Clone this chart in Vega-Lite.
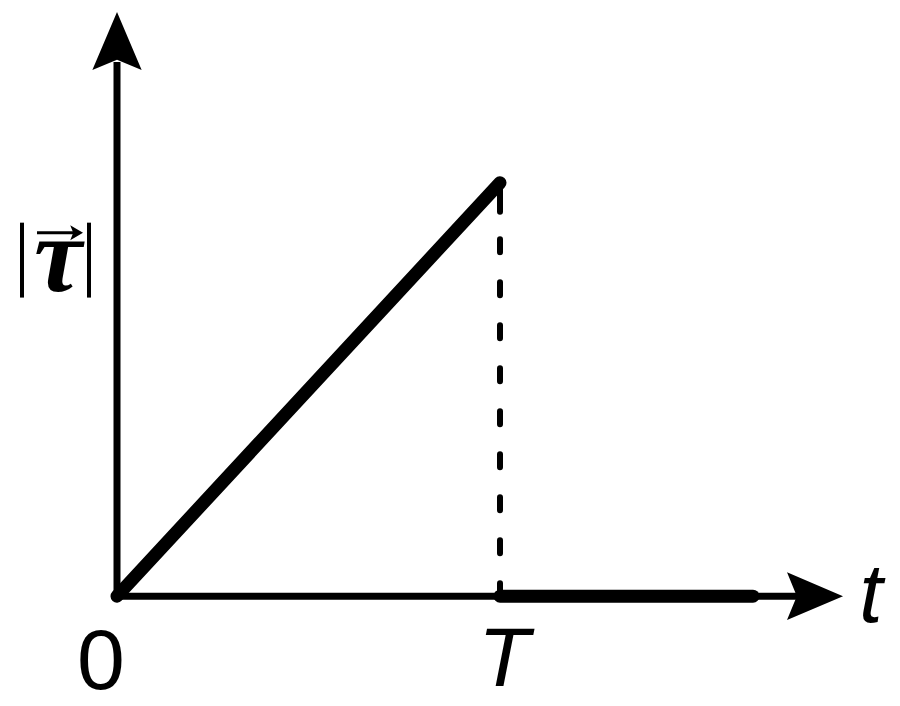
{
  "$schema": "https://vega.github.io/schema/vega-lite/v6.json",
  "description": "Magnitude of torque against time: linear rise to T, then zero.",
  "width": 900,
  "height": 706,
  "autosize": {"type": "fit", "contains": "padding"},
  "padding": 0,
  "background": "white",
  "config": {"view": {"stroke": null}},
  "datasets": {
    "axes": [
      {"t": 0, "tau": -0.007, "t2": 0, "tau2": 1.292},
      {"t": -0.005, "tau": 0, "t2": 1.783, "tau2": 0}
    ],
    "yArrow": [{"t": 0, "tau": 1.343}],
    "xArrow": [{"t": 1.8225, "tau": 0}],
    "torque": [
      {"t": 0, "tau": 0, "t2": 1, "tau2": 1},
      {"t": 1, "tau": 0, "t2": 1.6606, "tau2": 0}
    ],
    "drop": [{"t": 1, "tau": 0, "tau2": 1}],
    "dropTop": [{"t": 1, "tau": 0.93, "tau2": 1}],
    "upright": [{"t": -0.0418, "tau": -0.2246, "label": "0"}],
    "italic": [
      {"t": 1.01, "tau": -0.2174, "label": "T"},
      {"t": 1.9687, "tau": -0.0628, "label": "t"}
    ],
    "bars": [
      {"t": -0.248, "tau": 0.7222, "tau2": 0.9034},
      {"t": -0.0731, "tau": 0.7222, "tau2": 0.9034}
    ],
    "vecShaft": [{"t": -0.2089, "tau": 0.8792, "t2": -0.112, "tau2": 0.8792}],
    "vecHead": [{"t": -0.1084, "tau": 0.8792}],
    "tauSymbol": [{"t": -0.154, "tau": 0.739, "label": "τ"}]
  },
  "encoding": {
    "x": {"field": "t", "type": "quantitative", "axis": null, "scale": {"domain": [-0.3055, 2.0444], "nice": false, "zero": false}},
    "y": {"field": "tau", "type": "quantitative", "axis": null, "scale": {"domain": [-0.2633, 1.442], "nice": false, "zero": false}}
  },
  "layer": [
    {
      "data": {"name": "axes"},
      "mark": {"type": "rule", "color": "black", "strokeWidth": 7},
      "encoding": {"x2": {"field": "t2"}, "y2": {"field": "tau2"}}
    },
    {
      "data": {"name": "yArrow"},
      "mark": {"type": "point", "filled": true, "color": "black", "opacity": 1, "size": 3364, "shape": "M0,-1L0.85,1L0,0.65L-0.85,1Z"}
    },
    {
      "data": {"name": "xArrow"},
      "mark": {"type": "point", "filled": true, "color": "black", "opacity": 1, "size": 3136, "angle": 90, "shape": "M0,-1L0.85,1L0,0.65L-0.85,1Z"}
    },
    {
      "data": {"name": "torque"},
      "mark": {"type": "rule", "color": "black", "strokeWidth": 13, "strokeCap": "round"},
      "encoding": {"x2": {"field": "t2"}, "y2": {"field": "tau2"}}
    },
    {
      "data": {"name": "drop"},
      "mark": {"type": "rule", "color": "black", "strokeWidth": 6, "strokeCap": "round", "strokeDash": [13, 30]},
      "encoding": {"y2": {"field": "tau2"}}
    },
    {
      "data": {"name": "dropTop"},
      "mark": {"type": "rule", "color": "black", "strokeWidth": 6, "strokeCap": "round"},
      "encoding": {"y2": {"field": "tau2"}}
    },
    {
      "data": {"name": "upright"},
      "mark": {"type": "text", "font": "Liberation Sans", "fontSize": 86, "color": "black", "align": "center", "baseline": "alphabetic"},
      "encoding": {"text": {"field": "label"}}
    },
    {
      "data": {"name": "italic"},
      "mark": {"type": "text", "font": "Liberation Sans", "fontStyle": "italic", "fontSize": 84, "color": "black", "align": "center", "baseline": "alphabetic"},
      "encoding": {"text": {"field": "label"}}
    },
    {
      "data": {"name": "bars"},
      "mark": {"type": "rule", "color": "black", "strokeWidth": 4},
      "encoding": {"y2": {"field": "tau2"}}
    },
    {
      "data": {"name": "vecShaft"},
      "mark": {"type": "rule", "color": "black", "strokeWidth": 3},
      "encoding": {"x2": {"field": "t2"}, "y2": {"field": "tau2"}}
    },
    {
      "data": {"name": "vecHead"},
      "mark": {"type": "point", "filled": true, "color": "black", "opacity": 1, "size": 225, "shape": "M1,0L-0.7,-1L-0.3,0L-0.7,1Z"}
    },
    {
      "data": {"name": "tauSymbol"},
      "mark": {"type": "text", "font": "Liberation Serif", "fontStyle": "italic", "fontWeight": "bold", "fontSize": 108, "color": "black", "align": "center", "baseline": "alphabetic"},
      "encoding": {"text": {"field": "label"}}
    }
  ]
}
